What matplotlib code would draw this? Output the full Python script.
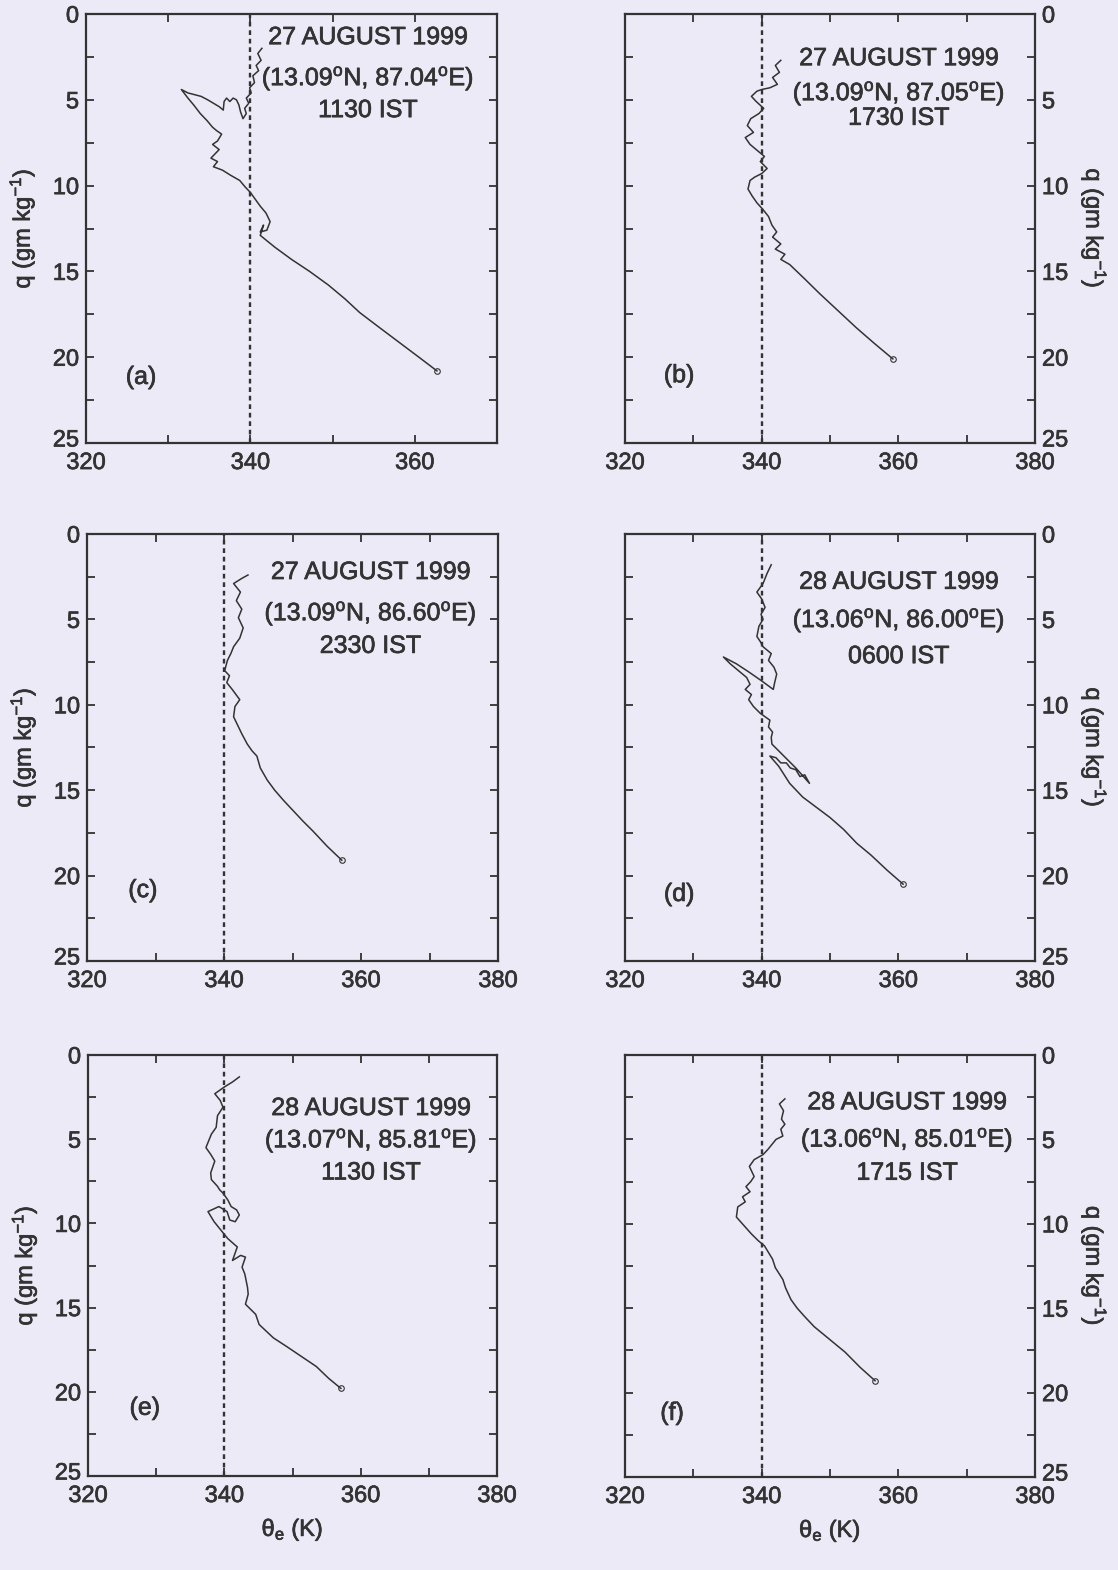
import matplotlib
matplotlib.use('Agg')
import matplotlib.pyplot as plt
import matplotlib.transforms as mtransforms
import matplotlib.patheffects as pe
from matplotlib.ticker import MultipleLocator

plt.rcParams['font.family'] = ['Liberation Sans', 'DejaVu Sans']
plt.rcParams['mathtext.fontset'] = 'custom'
plt.rcParams['mathtext.rm'] = 'Liberation Sans'
plt.rcParams['mathtext.it'] = 'Liberation Sans:italic'
plt.rcParams['mathtext.default'] = 'regular'

# ---------------- data (theta_e in K, q in g/kg) ----------------
theta_a = [341.4, 340.9, 341.3, 340.7, 341.0, 340.3, 340.5, 339.9, 340.1, 339.5, 339.8, 339.3, 339.5, 339.1,
           338.8, 338.6, 338.3, 337.9, 337.5, 337.1, 336.8, 336.7,
           336.2, 335.5, 334.8, 334.0, 333.2, 332.4, 331.6,
           332.4, 333.1, 333.9, 334.7, 335.4, 335.9, 336.5,
           336.0, 335.4, 336.2, 335.6, 335.2, 336.0, 335.5,
           336.6, 337.6, 338.7, 339.4, 340.0, 340.6, 341.2,
           341.9, 342.4, 342.0, 341.2, 341.6, 341.2,
           343.0, 345.0, 347.2, 349.5, 351.5, 353.3, 355.5, 358.0, 360.5, 362.7]
q_a = [2.0, 2.3, 2.7, 3.0, 3.3, 3.6, 4.0, 4.3, 4.6, 4.9, 5.2, 5.5, 5.8, 6.1,
       5.7, 5.3, 5.0, 4.9, 5.1, 4.9, 5.1, 5.6,
       5.4, 5.2, 5.0, 4.8, 4.7, 4.6, 4.4,
       4.9, 5.3, 5.8, 6.2, 6.6, 6.8, 7.0,
       7.4, 7.6, 7.9, 8.2, 8.4, 8.6, 8.9,
       9.1, 9.4, 9.7, 10.1, 10.4, 10.8, 11.2,
       11.6, 12.1, 12.6, 12.7, 12.3, 12.9,
       13.6, 14.3, 15.0, 15.8, 16.6, 17.4, 18.2, 19.1, 20.0, 20.8]

theta_b = [342.8, 342.0, 342.6, 341.6, 342.3, 341.2, 340.0, 339.3, 338.5, 339.2, 340.3, 339.6, 338.4,
           337.9, 338.8, 337.6, 338.3, 339.5, 340.4, 339.8, 340.8, 340.0, 339.0, 338.3, 338.0, 338.6,
           339.3, 340.2, 341.0, 341.5, 342.2, 341.6, 342.8, 342.0, 343.4, 342.8, 344.1, 346.2, 348.5,
           351.2, 353.9, 356.5, 359.2]
q_b = [2.7, 3.0, 3.4, 3.7, 4.1, 4.3, 4.4, 4.5, 4.8, 5.1, 5.5, 5.8, 6.1,
       6.5, 6.9, 7.2, 7.6, 8.0, 8.3, 8.6, 9.0, 9.3, 9.5, 9.7, 10.2, 10.6,
       11.0, 11.4, 11.8, 12.3, 12.7, 13.0, 13.4, 13.7, 14.0, 14.3, 14.6, 15.4, 16.3,
       17.3, 18.3, 19.2, 20.1]

theta_c = [343.5, 342.6, 341.4, 342.4, 341.8, 342.6, 342.1, 342.8, 342.3, 341.4, 341.0, 340.5, 340.1,
           340.8, 340.4, 341.2, 342.3, 341.6, 341.4, 342.0, 342.6, 343.4, 344.1, 344.8, 345.3, 346.3,
           347.4, 348.7, 350.1, 351.5, 353.0, 355.1, 357.2]
q_c = [2.4, 2.6, 2.9, 3.4, 3.9, 4.4, 4.9, 5.5, 6.1, 6.6, 7.0, 7.4, 8.0,
       8.3, 8.7, 9.1, 9.7, 10.1, 10.7, 11.2, 11.7, 12.3, 12.7, 13.0, 13.7, 14.4,
       15.0, 15.6, 16.2, 16.8, 17.4, 18.3, 19.1]

theta_d = [341.4, 340.8, 340.2, 339.3, 340.0, 340.5, 339.9, 340.2, 339.6, 339.3, 339.8, 340.2, 341.4,
           341.0, 341.8, 342.2, 341.9, 341.7,
           340.0, 338.2, 336.3, 334.4,
           335.4, 336.6, 337.8, 338.3, 337.6, 338.5, 338.1, 338.8, 339.8, 341.2, 341.0, 341.6, 341.4, 341.5,
           343.0, 345.0, 347.0,
           346.3, 345.6, 345.0, 344.2, 343.6, 342.8, 342.1, 341.2,
           342.5, 344.1, 346.0, 348.0, 350.0, 352.0, 353.9, 356.0, 358.4, 360.7]
q_d = [1.8, 2.3, 2.9, 3.4, 3.8, 4.3, 4.7, 5.0, 5.4, 6.0, 6.3, 6.6, 7.0,
       7.4, 7.8, 8.2, 8.7, 9.1,
       8.6, 8.1, 7.6, 7.2,
       7.6, 8.0, 8.4, 8.8, 9.1, 9.4, 9.7, 10.1, 10.5, 10.9, 11.3, 11.6, 11.9, 12.3,
       12.9, 13.7, 14.6,
       14.1, 14.2, 13.8, 13.7, 13.4, 13.4, 13.1, 13.0,
       13.6, 14.6, 15.4, 16.0, 16.6, 17.3, 18.1, 18.8, 19.7, 20.5]

theta_e = [342.2, 341.2, 340.0, 338.6, 339.4, 339.8, 339.0, 338.8, 338.1, 337.3, 338.0, 338.6, 338.0,
           338.1, 339.0, 339.3, 339.8, 340.5, 341.0, 341.8, 342.2, 341.6, 340.8, 340.4, 339.2, 337.6,
           338.5, 339.5, 340.5, 341.9, 341.2, 342.4, 343.1, 342.6, 343.0, 343.4, 343.5, 343.1, 344.6,
           345.1, 347.2, 349.1, 351.3, 353.5, 355.3, 357.1]
q_e = [1.3, 1.6, 1.9, 2.3, 2.7, 3.1, 3.6, 4.3, 4.7, 5.5, 5.9, 6.3, 7.0,
       7.4, 7.8, 8.0, 8.2, 8.6, 9.0, 9.2, 9.5, 9.9, 9.8, 9.3, 9.0, 9.3,
       9.9, 10.4, 10.9, 11.4, 12.2, 11.9, 12.0, 12.6, 13.0, 13.8, 14.2, 14.8, 15.4,
       16.0, 16.8, 17.3, 17.9, 18.5, 19.2, 19.8]

theta_f = [343.4, 342.6, 343.2, 342.9, 343.4, 342.8, 343.1, 342.1, 340.9, 340.2, 338.9, 338.2, 338.9,
           338.4, 337.7, 338.3, 337.2, 337.6, 336.5, 336.3,
           337.4, 338.5, 339.5, 340.4, 341.6, 342.0, 343.1, 343.5, 344.3, 345.2, 346.3, 347.7, 349.2,
           350.7, 352.2, 354.4, 356.6]
q_f = [2.6, 2.9, 3.3, 3.8, 4.1, 4.4, 4.8, 5.0, 5.6, 5.9, 6.2, 6.6, 7.2,
       7.5, 7.8, 8.1, 8.4, 8.7, 9.0, 9.6,
       10.1, 10.6, 11.0, 11.3, 12.1, 12.6, 13.3, 13.8, 14.5, 15.0, 15.5, 16.1, 16.6,
       17.1, 17.6, 18.5, 19.3]

dates = ['27 AUGUST 1999', '27 AUGUST 1999', '27 AUGUST 1999',
         '28 AUGUST 1999', '28 AUGUST 1999', '28 AUGUST 1999']
lats = ['13.09', '13.09', '13.09', '13.06', '13.07', '13.06']
lons = ['87.04', '87.05', '86.60', '86.00', '85.81', '85.01']
times = ['1130 IST', '1730 IST', '2330 IST', '0600 IST', '1130 IST', '1715 IST']
letters = ['(a)', '(b)', '(c)', '(d)', '(e)', '(f)']
thetas = [theta_a, theta_b, theta_c, theta_d, theta_e, theta_f]
qs = [q_a, q_b, q_c, q_d, q_e, q_f]
xmaxs = [370, 380, 380, 380, 380, 380]
ref_theta = 340

# ---------------- layout ----------------
W, H = 1118, 1570
BG = '#ECEAF6'
FG = '#333333'
heavy = [pe.withStroke(linewidth=0.5, foreground=FG)]

boxes = [(86, 14, 497, 443), (625, 14, 1035, 443),
         (87, 534, 498, 961), (625, 534, 1035, 961),
         (88, 1055, 497, 1476), (625, 1055, 1035, 1477)]
text_pos = [(0.686, [0.946, 0.851, 0.776]),
            (0.668, [0.897, 0.816, 0.758]),
            (0.690, [0.911, 0.815, 0.738]),
            (0.668, [0.888, 0.799, 0.714]),
            (0.692, [0.874, 0.798, 0.721]),
            (0.688, [0.888, 0.800, 0.721])]
letter_pos = [(0.134, 0.154), (0.132, 0.158), (0.136, 0.166),
              (0.132, 0.157), (0.139, 0.162), (0.115, 0.152)]

fig = plt.figure(figsize=(W / 100, H / 100), dpi=100, facecolor=BG)

for i in range(6):
    l, t, r, b = boxes[i]
    ax = fig.add_axes([l / W, 1 - b / H, (r - l) / W, (b - t) / H], facecolor=BG)
    ax.plot(thetas[i], qs[i], color=FG, lw=1.1)
    ax.plot(thetas[i][-1], qs[i][-1], 'o', mfc='none', mec=FG, ms=4, mew=0.8)
    ax.axvline(ref_theta, color=FG, lw=1.7, ls=(0, (2.0, 1.6)))
    ax.set_xlim(320, xmaxs[i])
    ax.set_ylim(25, 0)
    ax.xaxis.set_major_locator(MultipleLocator(20))
    ax.xaxis.set_minor_locator(MultipleLocator(10))
    ax.yaxis.set_major_locator(MultipleLocator(5))
    ax.yaxis.set_minor_locator(MultipleLocator(2.5))
    right = (i % 2 == 1)
    ax.tick_params(which='both', direction='in', top=True, bottom=True, left=True, right=True,
                   length=6, width=1.3, color=FG)
    ax.tick_params(axis='x', which='major', labelsize=17, labelcolor=FG, pad=6.5)
    ax.tick_params(axis='y', which='major', labelsize=17, labelcolor=FG, pad=5,
                   labelleft=not right, labelright=right)
    for sp in ax.spines.values():
        sp.set_linewidth(1.6)
        sp.set_color(FG)
    ylab = 'q (gm kg$^{-1}$)'
    if right:
        ax.yaxis.set_label_position('right')
        ax.set_ylabel(ylab, fontsize=17, color=FG, rotation=270, va='center')
        ax.yaxis.set_label_coords(1.144, 0.5)
    else:
        ax.set_ylabel(ylab, fontsize=17, color=FG, va='center')
        ax.yaxis.set_label_coords(-0.156, 0.5)
    ax.yaxis.label.set_path_effects(heavy)
    if i >= 4:
        ax.set_xlabel(r'$\theta_{e}$ (K)', fontsize=17, color=FG)
        ax.xaxis.set_label_coords(0.5, -0.095)
        ax.xaxis.label.set_path_effects(heavy)

    fig.canvas.draw()
    for lab in ax.get_xticklabels() + ax.get_yticklabels():
        lab.set_path_effects(heavy)
    # lift the bottom "25" label slightly so it sits above the x tick labels
    for tk in ax.yaxis.get_major_ticks():
        if abs(tk.get_loc() - 25) < 1e-6:
            for lab in (tk.label1, tk.label2):
                lab.set_transform(lab.get_transform() +
                                  mtransforms.ScaledTranslation(0, 5 / 100, fig.dpi_scale_trans))

    tx, tys = text_pos[i]
    lines = [dates[i], '(' + lats[i] + '$^{o}$N, ' + lons[i] + '$^{o}$E)', times[i]]
    for s, ty in zip(lines, tys):
        ax.text(tx, ty, s, transform=ax.transAxes, ha='center', va='center',
                fontsize=18, color=FG, path_effects=heavy)
    lx, ly = letter_pos[i]
    ax.text(lx, ly, letters[i], transform=ax.transAxes, ha='center', va='center',
            fontsize=18, color=FG, path_effects=heavy)

fig.savefig('out.png', dpi=100, facecolor=BG)
